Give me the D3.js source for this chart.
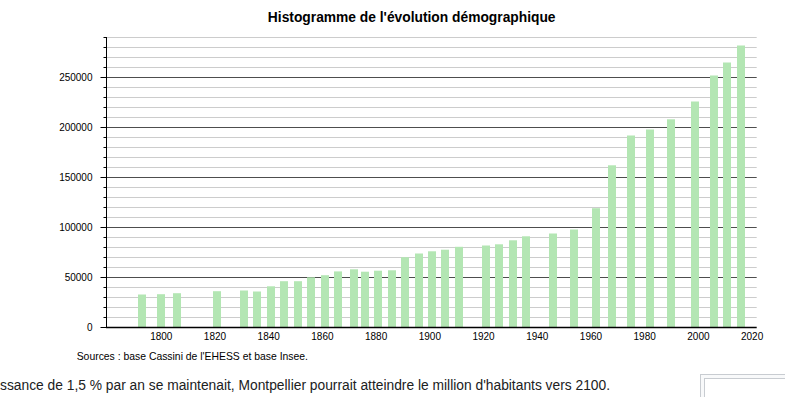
<!DOCTYPE html>
<html>
<head>
<meta charset="utf-8">
<script src="https://cdn.jsdelivr.net/npm/d3@7"></script>
<style>
  html, body { margin: 0; padding: 0; background: #fff; }
  svg { display: block; font-family: "Liberation Sans", Arial, sans-serif; }
</style>
</head>
<body>
<svg id="chart" width="785" height="397"></svg>
<script>
// ---- data ----
const years = [1793, 1800, 1806, 1821, 1831, 1836, 1841, 1846, 1851, 1856, 1861, 1866, 1872, 1876, 1881, 1886,
  1891, 1896, 1901, 1906, 1911, 1921, 1926, 1931, 1936, 1946, 1954, 1962, 1968, 1975, 1982, 1990, 1999, 2006, 2011, 2016];
const population = [32500, 32800, 33800, 35800, 36500, 35500, 40700, 45800, 45800, 49700, 51800, 55600, 57700, 55300, 56300, 56700,
  69800, 73500, 75700, 77300, 80200, 81500, 82700, 86700, 90700, 93500, 97500, 118800, 161700, 191500, 197500, 207700, 225500, 251500, 264500, 281500];
const xTickYears = [1800, 1820, 1840, 1860, 1880, 1900, 1920, 1940, 1960, 1980, 2000, 2020];
const yMajorTicks = [0, 50000, 100000, 150000, 200000, 250000];
const yMinorTicks = d3.range(10000, 290001, 10000).filter(v => v % 50000 !== 0);
const titleText = "Histogramme de l'évolution démographique";
const sourceText = "Sources : base Cassini de l'EHESS et base Insee.";
const bodyText = "ssance de 1,5 % par an se maintenait, Montpellier pourrait atteindre le million d'habitants vers 2100.";

// ---- layout ----
const svg = d3.select("#chart");
const plotL = 106, plotR = 756.7, plotT = 37, plotB = 327;

const x = d3.scaleLinear().domain([1779.6, 2021.9]).range([plotL, plotR]);
const y = d3.scaleLinear().domain([0, 290000]).range([plotB, plotT]);

// minor grid
svg.append("g").selectAll("line").data(yMinorTicks).join("line")
  .attr("x1", plotL).attr("x2", plotR)
  .attr("y1", d => Math.round(y(d)) + 0.5).attr("y2", d => Math.round(y(d)) + 0.5)
  .attr("stroke", "#cccccc").attr("stroke-width", 1);
// major grid
svg.append("g").selectAll("line").data(yMajorTicks.filter(v => v > 0)).join("line")
  .attr("x1", plotL).attr("x2", plotR)
  .attr("y1", d => Math.round(y(d)) + 0.5).attr("y2", d => Math.round(y(d)) + 0.5)
  .attr("stroke", "#4d4d4d").attr("stroke-width", 1);

// bars
const barW = 8;
svg.append("g").selectAll("rect").data(years).join("rect")
  .attr("x", (d) => Math.round(x(d) - barW / 2))
  .attr("y", (d, i) => y(population[i]))
  .attr("width", barW)
  .attr("height", (d, i) => y(0) - y(population[i]))
  .attr("fill", "#b3e6b3");

// y axis (major ticks with labels)
const yAxis = svg.append("g").attr("transform", `translate(${plotL + 0.5},0)`)
  .call(d3.axisLeft(y).tickValues(yMajorTicks).tickSize(6).tickPadding(8).tickFormat(d3.format("d")));
yAxis.select(".domain").remove();
yAxis.selectAll("text").attr("font-size", 10).attr("font-family", "Liberation Sans, Arial, sans-serif").attr("fill", "#000");
yAxis.selectAll("line").attr("stroke", "#000");

// y axis minor ticks
const yMinor = svg.append("g").attr("transform", `translate(${plotL + 0.5},0)`)
  .call(d3.axisLeft(y).tickValues(yMinorTicks).tickSize(3).tickFormat(""));
yMinor.select(".domain").remove();
yMinor.selectAll("line").attr("stroke", "#000");

// y axis line
svg.append("line").attr("x1", plotL + 0.5).attr("x2", plotL + 0.5)
  .attr("y1", plotT).attr("y2", plotB + 1).attr("stroke", "#000");

// x axis
const xAxis = svg.append("g").attr("transform", `translate(0,${plotB + 0.5})`)
  .call(d3.axisBottom(x).tickValues(xTickYears).tickSize(0).tickPadding(5).tickFormat(d3.format("d")));
xAxis.select(".domain").remove();
xAxis.selectAll("text").attr("font-size", 10).attr("font-family", "Liberation Sans, Arial, sans-serif").attr("fill", "#000");
svg.append("line").attr("x1", plotL).attr("x2", plotR)
  .attr("y1", plotB + 0.5).attr("y2", plotB + 0.5).attr("stroke", "#000").attr("stroke-width", 1.3);

// title
svg.append("text").attr("x", 411.7).attr("y", 21.5).attr("text-anchor", "middle")
  .attr("font-size", 13.8).attr("font-weight", "bold").attr("fill", "#000").text(titleText);

// sources
svg.append("text").attr("x", 76.7).attr("y", 359.5)
  .attr("font-size", 10.4).attr("fill", "#000").text(sourceText);

// body text
svg.append("text").attr("x", 0).attr("y", 389.5)
  .attr("font-size", 13.8).attr("fill", "#202122").text(bodyText);

// thumbnail box at bottom right
svg.append("rect").attr("x", 700.5).attr("y", 374.5).attr("width", 100).attr("height", 40)
  .attr("fill", "#f8f9fa").attr("stroke", "#c8ccd1");
svg.append("rect").attr("x", 704.5).attr("y", 378.5).attr("width", 100).attr("height", 40)
  .attr("fill", "#fff").attr("stroke", "#c8ccd1");
</script>
</body>
</html>
